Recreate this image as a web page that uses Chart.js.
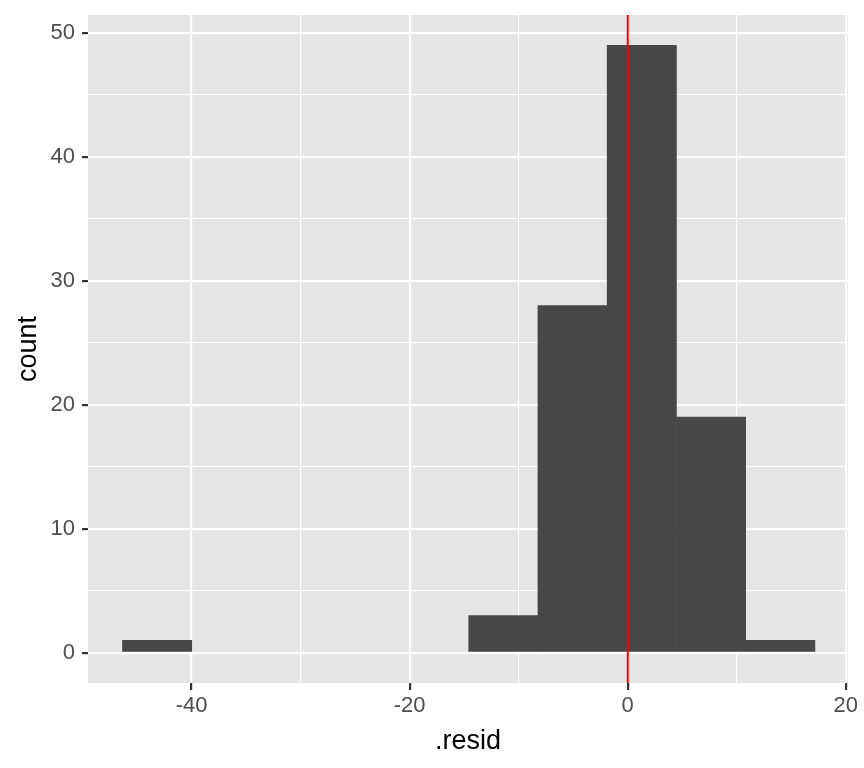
<!DOCTYPE html>
<html>
<head>
<meta charset="utf-8">
<script src="https://cdn.jsdelivr.net/npm/chart.js@4"></script>
<style>
    html, body { margin: 0; padding: 0; background: #ffffff; }
    #wrap { width: 864px; height: 768px; }
</style>
</head>
<body>
<div id="wrap"><canvas id="histChart" width="864" height="768"></canvas></div>
<script>
// histogram of .resid, 10 bins
const binCenters = [-43.16, -36.81, -30.46, -24.11, -17.76, -11.41, -5.06, 1.29, 7.64, 13.99];
const binCounts = [1, 0, 0, 0, 0, 3, 28, 49, 19, 1];
const refLineX = 0;
const xTickLabels = [-40, -20, 0, 20];
const yTickLabels = [0, 10, 20, 30, 40, 50];

const panelBg = {
    id: 'panelBg',
    beforeDraw(chart) {
        const { ctx, chartArea } = chart;
        ctx.save();
        ctx.fillStyle = '#E5E5E5';
        ctx.fillRect(chartArea.left, chartArea.top, chartArea.right - chartArea.left, chartArea.bottom - chartArea.top);
        ctx.restore();
    }
};

function gridWidth(labels) {
    return ctx => labels.includes(ctx.tick.value) ? 2.2 : 1.1;
}

function tickColor(labels) {
    return ctx => labels.includes(ctx.tick.value) ? '#333333' : 'rgba(0,0,0,0)';
}

document.addEventListener('DOMContentLoaded', () => {
    const ctx = document.getElementById('histChart').getContext('2d');
    new Chart(ctx, {
        data: {
            datasets: [{
                type: 'bar',
                data: binCenters.map((c, i) => ({ x: c, y: binCounts[i] })),
                backgroundColor: c => (c.raw && c.raw.y === 0) ? 'rgba(0,0,0,0)' : '#474747',
                borderWidth: 0,
                barPercentage: 1,
                categoryPercentage: 1,
                order: 2
            }, {
                type: 'line',
                data: [{ x: refLineX, y: -2.45 }, { x: refLineX, y: 51.45 }],
                borderColor: '#ff0000',
                borderWidth: 2,
                pointRadius: 0,
                fill: false,
                order: 1
            }]
        },
        plugins: [panelBg],
        options: {
            responsive: false,
            animation: false,
            events: [],
            layout: { padding: { top: 15, right: 16, left: 0, bottom: 0 } },
            plugins: {
                legend: { display: false },
                tooltip: { enabled: false }
            },
            scales: {
                x: {
                    type: 'linear',
                    min: -49.5,
                    max: 20.2,
                    offset: false,
                    afterFit: scale => { scale.height = 85; },
                    border: { display: false },
                    grid: {
                        color: '#ffffff',
                        lineWidth: gridWidth(xTickLabels),
                        tickColor: tickColor(xTickLabels),
                        tickWidth: 2.2,
                        tickLength: 7,
                        offset: false
                    },
                    ticks: {
                        stepSize: 10,
                        includeBounds: false,
                        autoSkip: false,
                        maxRotation: 0,
                        padding: 3,
                        color: '#4D4D4D',
                        font: { family: 'Liberation Sans, Arial, sans-serif', size: 22 },
                        callback: v => xTickLabels.includes(v) ? String(v) : ''
                    },
                    title: {
                        display: true,
                        text: '.resid',
                        color: '#000000',
                        font: { family: 'Liberation Sans, Arial, sans-serif', size: 27 },
                        padding: { top: 0, bottom: 10 }
                    }
                },
                y: {
                    type: 'linear',
                    min: -2.45,
                    max: 51.45,
                    afterFit: scale => { scale.width = 88; scale.paddingTop = 0; },
                    border: { display: false },
                    grid: {
                        color: '#ffffff',
                        lineWidth: gridWidth(yTickLabels),
                        tickColor: tickColor(yTickLabels),
                        tickWidth: 2.2,
                        tickLength: 6,
                        offset: false
                    },
                    ticks: {
                        stepSize: 5,
                        includeBounds: false,
                        autoSkip: false,
                        padding: 7,
                        color: '#4D4D4D',
                        font: { family: 'Liberation Sans, Arial, sans-serif', size: 22 },
                        callback: v => yTickLabels.includes(v) ? String(v) : ''
                    },
                    title: {
                        display: true,
                        text: 'count',
                        color: '#000000',
                        font: { family: 'Liberation Sans, Arial, sans-serif', size: 27 },
                        padding: { top: 12, bottom: 0 }
                    }
                }
            }
        }
    });
});
</script>
</body>
</html>
